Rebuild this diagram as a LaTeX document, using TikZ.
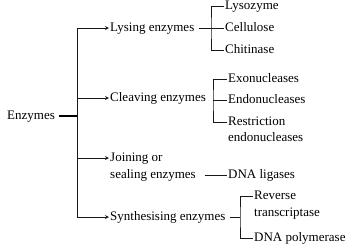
\documentclass[tikz,border=0pt]{standalone}
\usepackage{fontspec}
\setmainfont{Liberation Serif}
\usetikzlibrary{arrows,positioning}

\begin{document}
\begin{tikzpicture}[x=1pt,y=-1pt,>=stealth, every node/.style={font=\fontsize{13}{16}\selectfont},
lbl/.style={anchor=west,inner sep=1pt,text height=8.5pt,text depth=2.5pt},
ln/.style={line width=0.8pt,draw=black!90},
arr/.style={->,ln}]
\useasboundingbox (0,0) rectangle (348,250);
\node[lbl] (enz) at (6,116) {Enzymes};
\coordinate (top) at (77,28);
\coordinate (bot) at (77,217);
% first level
\node[lbl] (lys) at (109,28) {Lysing enzymes};
\node[lbl] (clv) at (109,98) {Cleaving enzymes};
\node[lbl] (join) at (109,158) {Joining or};
\node[lbl] (seal) at (109,175) {sealing enzymes};
\node[lbl] (syn) at (109,217) {Synthesising enzymes};
\draw[line width=1.6pt] ([xshift=3pt]enz.east) -- (enz.east -| top);
\draw[ln] (top) -- (bot);
\draw[arr] (top) -- (lys.west);
\draw[arr] (clv.west -| top) -- (clv.west);
\draw[arr] (join.west -| top) -- (join.west);
\draw[arr] (bot) -- (syn.west);
% lysing
\coordinate (b1) at (211,28);
\node[lbl] (lyso) at (224,6) {Lysozyme};
\node[lbl] (cell) at (224,28) {Cellulose};
\node[lbl] (chit) at (224,50) {Chitinase};
\draw[ln] ([xshift=3pt]lys.east) -- (b1);
\draw[ln] (lyso.west) -| (b1) |- (chit.west);
\draw[ln] (cell.west) -- (cell.west -| b1);
% cleaving
\coordinate (b2) at (213,100);
\node[lbl] (exo) at (227,79) {Exonucleases};
\node[lbl] (endo) at (227,100) {Endonucleases};
\node[lbl] (restr) at (227,122) {Restriction};
\node[lbl] (endo2) at (227,138) {endonucleases};
\draw[ln] (exo.west) -| (b2) |- (restr.west);
\draw[ln] (endo.west) -- (endo.west -| b2);
% joining
\node[lbl] (lig) at (227,175) {DNA ligases};
\draw[ln] ([xshift=8pt]seal.east) -- (lig.west);
% synthesising
\coordinate (b3) at (240,217);
\node[lbl] (rev) at (253,196) {Reverse};
\node[lbl] (trans) at (253,213) {transcriptase};
\node[lbl] (pol) at (253,238) {DNA polymerase};
\draw[ln] ([xshift=3pt]syn.east) -- (b3);
\draw[ln] (rev.west) -| (b3) |- (pol.west);
\end{tikzpicture}
\end{document}
